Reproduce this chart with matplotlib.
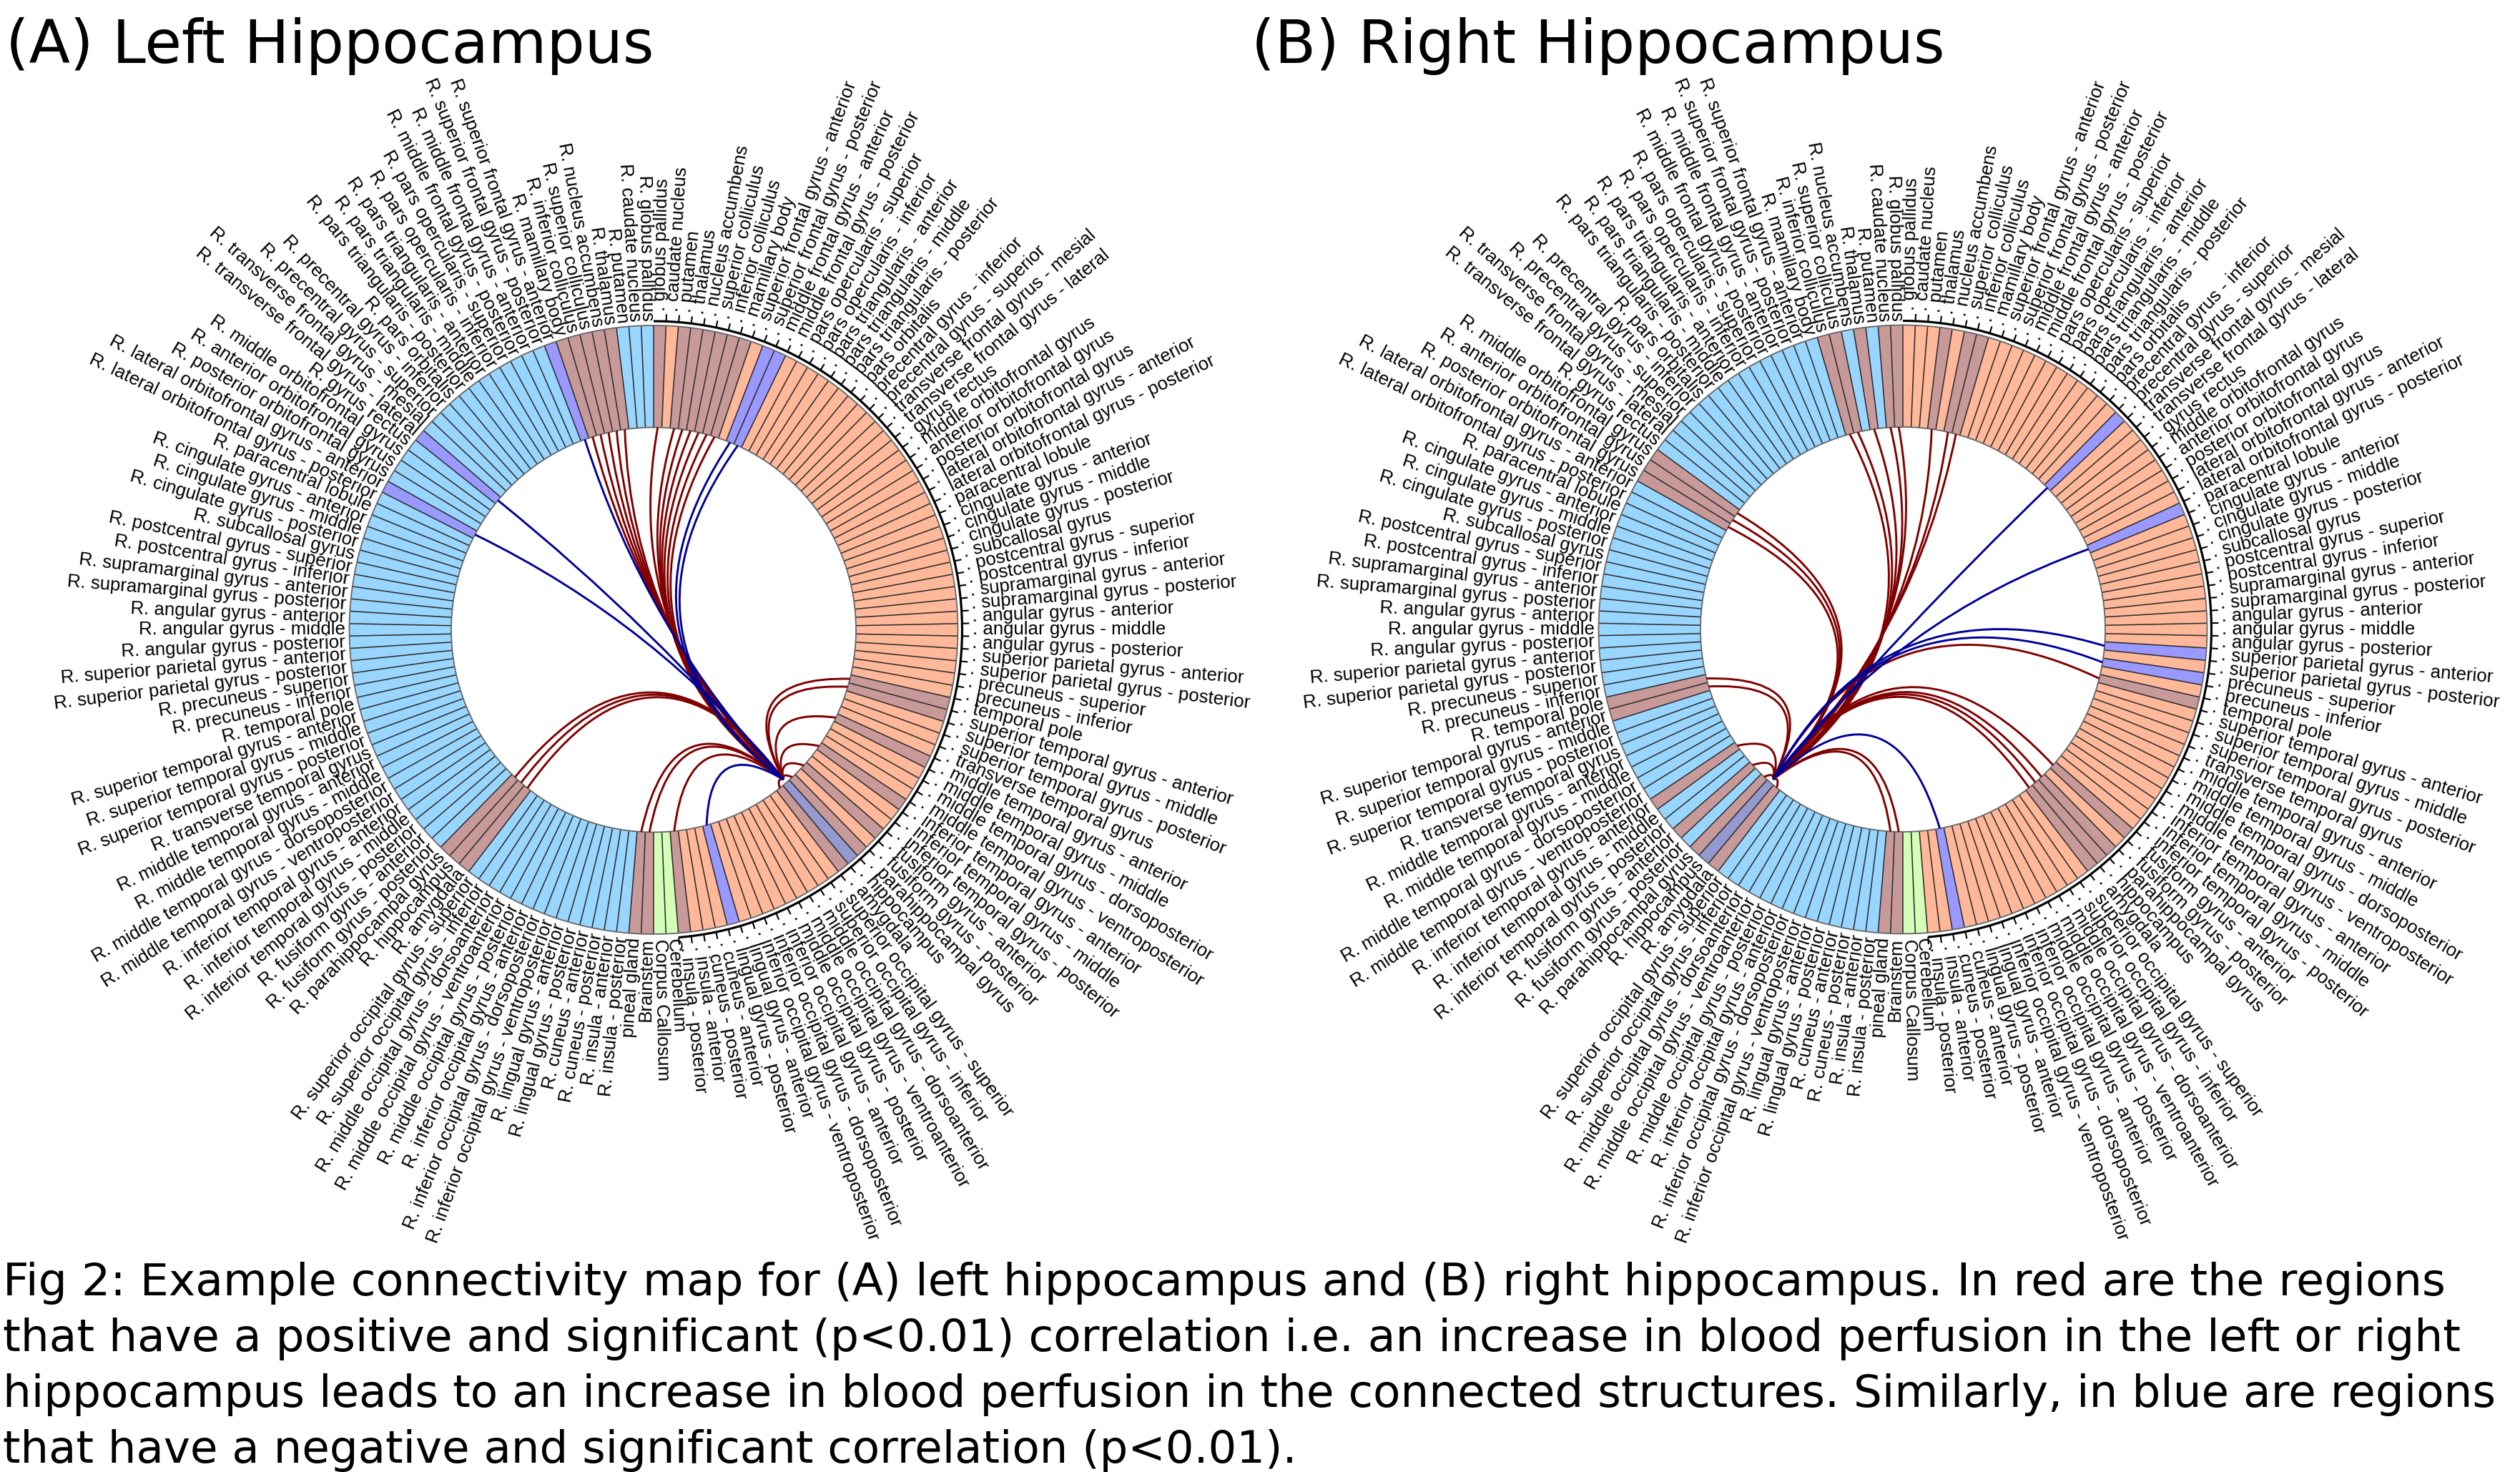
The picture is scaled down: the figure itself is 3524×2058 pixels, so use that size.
import numpy as np
import matplotlib
matplotlib.use("Agg")
import matplotlib.pyplot as plt
from matplotlib.patches import Wedge, PathPatch
from matplotlib.path import Path

W, H = 3524, 2058

# ---------- data ----------
REGIONS = [
    "globus pallidus", "caudate nucleus", "putamen", "thalamus", "nucleus accumbens",
    "superior colliculus", "inferior colliculus", "mamillary body",
    "superior frontal gyrus - anterior", "superior frontal gyrus - posterior",
    "middle frontal gyrus - anterior", "middle frontal gyrus - posterior",
    "pars opercularis - superior", "pars opercularis - inferior",
    "pars triangularis - anterior", "pars triangularis - middle", "pars triangularis - posterior",
    "pars orbitalis", "precentral gyrus - inferior", "precentral gyrus - superior",
    "transverse frontal gyrus - mesial", "transverse frontal gyrus - lateral", "gyrus rectus",
    "middle orbitofrontal gyrus", "anterior orbitofrontal gyrus", "posterior orbitofrontal gyrus",
    "lateral orbitofrontal gyrus - anterior", "lateral orbitofrontal gyrus - posterior",
    "paracentral lobule", "cingulate gyrus - anterior", "cingulate gyrus - middle",
    "cingulate gyrus - posterior", "subcallosal gyrus", "postcentral gyrus - superior",
    "postcentral gyrus - inferior", "supramarginal gyrus - anterior", "supramarginal gyrus - posterior",
    "angular gyrus - anterior", "angular gyrus - middle", "angular gyrus - posterior",
    "superior parietal gyrus - anterior", "superior parietal gyrus - posterior",
    "precuneus - superior", "precuneus - inferior", "temporal pole",
    "superior temporal gyrus - anterior", "superior temporal gyrus - middle",
    "superior temporal gyrus - posterior", "transverse temporal gyrus",
    "middle temporal gyrus - anterior", "middle temporal gyrus - middle",
    "middle temporal gyrus - dorsoposterior", "middle temporal gyrus - ventroposterior",
    "inferior temporal gyrus - anterior", "inferior temporal gyrus - middle",
    "inferior temporal gyrus - posterior", "fusiform gyrus - anterior", "fusiform gyrus - posterior",
    "parahippocampal gyrus", "hippocampus", "amygdala",
    "superior occipital gyrus - superior", "superior occipital gyrus - inferior",
    "middle occipital gyrus - dorsoanterior", "middle occipital gyrus - ventroanterior",
    "middle occipital gyrus - posterior", "inferior occipital gyrus - anterior",
    "inferior occipital gyrus - dorsoposterior", "inferior occipital gyrus - ventroposterior",
    "lingual gyrus - anterior", "lingual gyrus - posterior", "cuneus - anterior", "cuneus - posterior",
    "insula - anterior", "insula - posterior",
]
MIDLINE = ["Cerebellum", "Corpus Callosum", "Brainstem", "pineal gland"]

# sector numbers, counted clockwise from the top, 1-based
SOURCE_A = 60
POS_A = [1, 3, 4, 5, 6, 7, 8, 45, 46, 50, 54, 57, 59, 61, 75, 78, 79, 94, 95, 96,
         147, 148, 149, 150, 151]
NEG_A = [10, 11, 71, 128, 133, 146]
SOURCE_B = 95
POS_B = [4, 6, 7, 45, 57, 59, 60, 61, 78, 79, 94, 96, 98, 101, 109, 110, 129, 130, 131,
         148, 149, 151, 153, 154]
NEG_B = [20, 29, 41, 43, 73]

TITLE_A = "(A) Left Hippocampus"
TITLE_B = "(B) Right Hippocampus"
CAPTION = [
    "Fig 2: Example connectivity map for (A) left hippocampus and (B) right hippocampus. In red are the regions",
    "that have a positive and significant (p<0.01) correlation i.e. an increase in blood perfusion in the left or right",
    "hippocampus leads to an increase in blood perfusion in the connected structures. Similarly, in blue are regions",
    "that have a negative and significant correlation (p<0.01).",
]
CAPTION_SIZES = [45.6, 45.33, 45.15, 45.1]

# ---------- style ----------
C_LEFT, C_RIGHT, C_MID = "#FFB899", "#99D6FF", "#D3FFB8"
C_POS, C_NEG, C_SELF = "#C89999", "#9999FF", "#9499CF"
C_LINK_POS, C_LINK_NEG = "#800000", "#000099"
R_OUT, R_IN = 425.5, 283.0
R_ARC, TICK = 431.5, 10.0
HALF = 880.0
PANELS = [(914.0, 880.5), (2661.0, 880.0)]
FS = 18.6
SANS = "Liberation Sans"

NAMES = REGIONS + MIDLINE + ["R. " + r for r in REGIONS[::-1]]
N = len(NAMES)
DT = 360.0 / N

# control-point radius (fraction of inner radius) against angular separation
SEP = [0, 2.3, 7, 14, 36, 51, 80, 88, 117, 127, 138, 160, 180]
CTRL = [1, .95, .88, .78, .42, .21, -.10, -.13, -.27, -.27, -.18, -.03, 0]


def centre(k):
    return (k - 0.5) * DT


def pol(theta, r):
    t = np.radians(theta)
    return r * np.sin(t), r * np.cos(t)


def sector_colour(k, source, pos, neg):
    if k == source:
        return C_SELF
    if k in pos:
        return C_POS
    if k in neg:
        return C_NEG
    if k <= len(REGIONS):
        return C_LEFT
    if k <= len(REGIONS) + 2:
        return C_MID
    if k <= len(REGIONS) + len(MIDLINE):
        return C_POS
    return C_RIGHT


def link(ax, source, target, colour):
    a, b = centre(source), centre(target)
    d = ((b - a + 180) % 360) - 180
    mid = a + d / 2
    rc = np.interp(abs(d), SEP, CTRL) * R_IN
    verts = [pol(a, R_IN - 6), pol(mid, rc), pol(b, R_IN)]
    p = Path(verts, [Path.MOVETO, Path.CURVE3, Path.CURVE3])
    ax.add_patch(PathPatch(p, fc="none", ec=colour, lw=2.1, zorder=4, capstyle="butt"))


def panel(ax, source, pos, neg):
    ax.set_xlim(-HALF, HALF)
    ax.set_ylim(-HALF, HALF)
    ax.axis("off")
    for k in range(1, N + 1):
        c = sector_colour(k, source, pos, neg)
        ax.add_patch(Wedge((0, 0), R_OUT, 90 - k * DT, 90 - (k - 1) * DT,
                           width=R_OUT - R_IN, fc=c, ec="none", zorder=1))
        x0, y0 = pol((k - 1) * DT, R_IN)
        x1, y1 = pol((k - 1) * DT, R_OUT)
        ax.plot([x0, x1], [y0, y1], color="#2e2e2e", lw=1.15, zorder=2, solid_capstyle="butt")
    tt = np.linspace(0, 360, 721)
    for r in (R_IN, R_OUT):
        xx, yy = pol(tt, r)
        ax.plot(xx, yy, color="#666666", lw=1.3, zorder=3)
    # axis on the left-hemisphere half
    nl = len(REGIONS)
    tt = np.linspace(0, nl * DT, 200)
    xx, yy = pol(tt, R_ARC)
    ax.plot(xx, yy, color="black", lw=2.3, zorder=3, solid_capstyle="butt")
    for k in range(1, nl + 1):
        x0, y0 = pol(k * DT, R_ARC)
        x1, y1 = pol(k * DT, R_ARC + TICK)
        ax.plot([x0, x1], [y0, y1], color="black", lw=1.5, zorder=3, solid_capstyle="butt")
    # labels
    for k, name in enumerate(NAMES, start=1):
        th = centre(k)
        if th < 180:
            rot, ha = 90 - th, "left"
            if k <= nl:
                r, s = R_ARC + 14.5, ". " + name
            else:
                r, s = R_OUT + 7, name
        else:
            rot, ha = 270 - th, "right"
            r, s = R_OUT + 6, name
        x, y = pol(th, r)
        ax.text(x, y, s, rotation=rot, rotation_mode="anchor", ha=ha, va="center",
                fontsize=FS, family=SANS, color="black", zorder=5)
    for t in pos:
        link(ax, source, t, C_LINK_POS)
    for t in neg:
        link(ax, source, t, C_LINK_NEG)


fig = plt.figure(figsize=(W / 100, H / 100), dpi=100, facecolor="white")
for (cx, cy), (src, p, n) in zip(PANELS, [(SOURCE_A, POS_A, NEG_A), (SOURCE_B, POS_B, NEG_B)]):
    ax = fig.add_axes([(cx - HALF) / W, 1 - (cy + HALF) / H, 2 * HALF / W, 2 * HALF / H])
    ax.patch.set_alpha(0)
    panel(ax, src, p, n)

for s, x in ((TITLE_A, 8), (TITLE_B, 1750)):
    fig.text(x / W, 1 - 88 / H, s, fontsize=60.3, family="DejaVu Sans", va="baseline", ha="left")
for s, y, fs in zip(CAPTION, (1810.7, 1888.5, 1966.7, 2045), CAPTION_SIZES):
    fig.text(4 / W, 1 - y / H, s, fontsize=fs, family="DejaVu Sans", va="baseline", ha="left")

fig.savefig("out.png", dpi=100, facecolor="white")
